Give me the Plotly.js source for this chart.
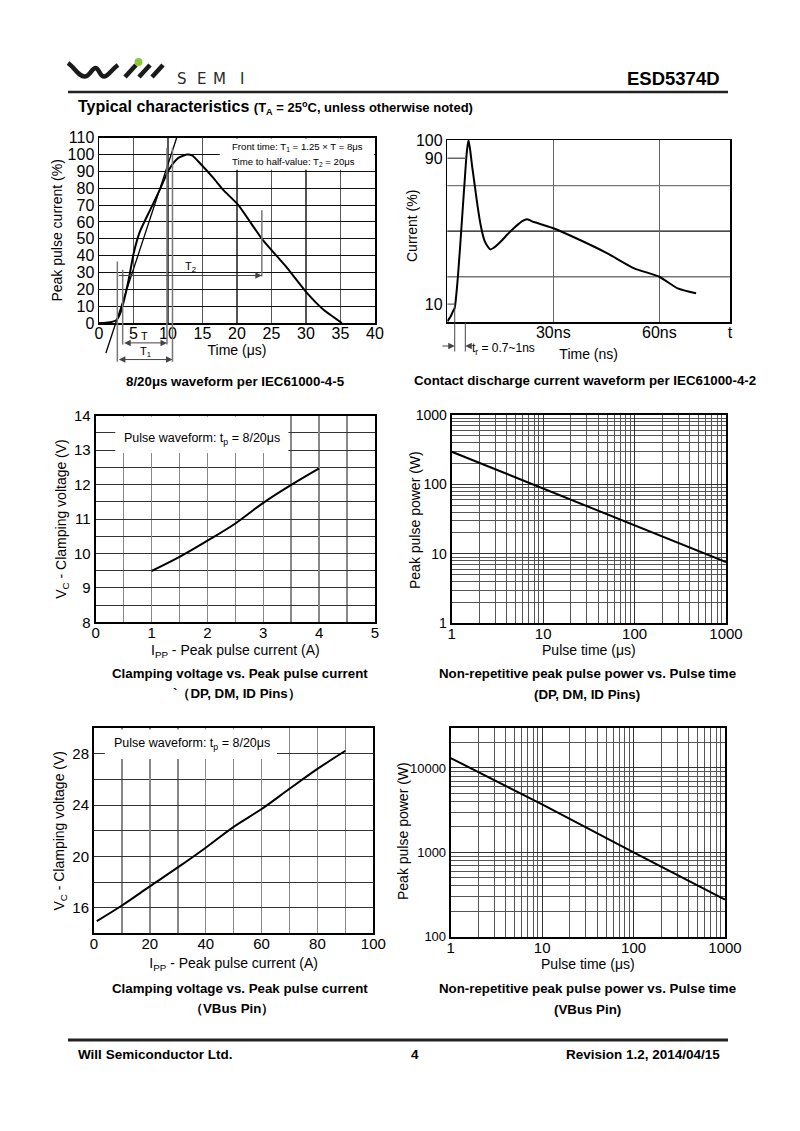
<!DOCTYPE html>
<html><head><meta charset="utf-8">
<script src="https://cdn.plot.ly/plotly-3.0.1.min.js"></script>
<style>html,body{margin:0;padding:0;background:#fff}</style>
</head><body>
<div id="chart" style="width:800px;height:1131px"></div>
<script>
// ---------------- DATA ----------------
// Chart 1: 8/20us waveform (IEC61000-4-5)
const wave820_t = [0, 1, 2, 2.6, 3.0, 3.4, 4.0, 4.5, 5.0, 5.9, 7.4, 8.8, 10.0, 10.8, 11.5, 12.7, 13.5, 14.6, 16.6, 18.0, 20.2, 23.6, 27.0, 30.1, 32.5, 35.2];
const wave820_i = [0, 0.2, 0.8, 2, 5, 10, 20, 30, 41, 54, 67, 79, 90, 95, 98, 100, 99.5, 95, 86, 79, 70, 50, 34, 18, 8, 0];
const tangent_t = [1.0, 11.26];
const tangent_i = [-17.8, 110];
const c1_xticks = [0, 5, 10, 15, 20, 25, 30, 35, 40];
const c1_yticks = [0, 10, 20, 30, 40, 50, 60, 70, 80, 90, 100, 110];

// Chart 2: contact discharge waveform (IEC61000-4-2)
const esd_t = [0, 0.9, 1.6, 2.1, 3.0, 4.0, 5.0, 5.5, 6.0, 6.5, 7.0, 7.7, 8.4, 9.1, 9.8, 10.5, 11.3, 12.2, 13.2, 14.1, 15.5, 16.9, 18.8, 20.2, 21.2, 22.6, 24.5, 27.0, 30.0, 37.7, 45.3, 52.9, 60.0, 65.2, 70.4];
const esd_i = [0.5, 3, 6, 8, 25, 52, 80, 93, 100, 94, 86, 76, 66, 57, 50, 45, 42, 40, 41, 42.4, 45, 48, 51.6, 54, 55.5, 56.5, 55, 53.5, 51.6, 45, 37.8, 29.6, 25, 18.6, 15.9];
const c2_xtickvals = [30, 60, 80];
const c2_xticktext = ['30ns', '60ns', 't'];
const c2_yticks = [10, 90, 100];

// Chart 3: Clamping voltage vs Ipp (DP, DM, ID)
const vcDp_ipp = [1, 1.5, 2, 2.5, 3, 3.5, 4];
const vcDp_vc = [9.49, 9.9, 10.37, 10.87, 11.47, 11.99, 12.47];
const c3_xticks = [0, 1, 2, 3, 4, 5];
const c3_yticks = [8, 9, 10, 11, 12, 13, 14];

// Chart 4: peak pulse power vs pulse time (DP, DM, ID)
const pppDp_tp = [1, 10, 100, 1000];
const pppDp_w = [296, 88, 26, 7.6];
const c4_ticks = [1, 10, 100, 1000];
const c4_ticktext = ['1', '10', '100', '1000'];

// Chart 5: Clamping voltage vs Ipp (VBus)
const vcVbus_ipp = [1, 10, 20, 30, 40, 50, 60, 70, 80, 90];
const vcVbus_vc = [14.95, 16.17, 17.66, 19.14, 20.68, 22.31, 23.7, 25.28, 26.83, 28.25];
const c5_xticks = [0, 20, 40, 60, 80, 100];
const c5_yticks = [16, 20, 24, 28];

// Chart 6: peak pulse power vs pulse time (VBus)
const pppVbus_tp = [1, 10, 100, 1000];
const pppVbus_w = [13100, 3700, 1000, 275];
const c6_xticks = [1, 10, 100, 1000];
const c6_xticktext = ['1', '10', '100', '1000'];
const c6_yticks = [100, 1000, 10000];
const c6_yticktext = ['100', '1000', '10000'];

// ---------------- HELPERS ----------------
const W = 800, H = 1131;
const ARIAL = '"Liberation Sans", Arial, sans-serif';
const xd = (a, b) => [a / W, b / W];
const yd = (top, bottom) => [1 - bottom / H, 1 - top / H];
function extendLow(dom, range, newMin) {
  const k = (dom[1] - dom[0]) / (range[1] - range[0]);
  return [dom[0] - (range[0] - newMin) * k, dom[1]];
}

const frame = {showline: true, mirror: true, linecolor: '#000', ticks: '', zeroline: false, fixedrange: true};
const tf16 = {family: ARIAL, size: 16, color: '#000'};
const tf15 = {family: ARIAL, size: 15, color: '#000'};
const tf14 = {family: ARIAL, size: 14, color: '#000'};
const tf13 = {family: ARIAL, size: 13, color: '#000'};
const TTLF = {family: ARIAL, size: 14, color: '#000'};
const ttl = (t, st) => ({text: t, font: TTLF, standoff: st});
const logMinor = (c) => ({dtick: 'D1', showgrid: true, gridcolor: c, gridwidth: 1, ticks: ''});

// domains (from pixel layout)
const D1x = xd(99, 375), D1y = yd(137.7, 323);
const D2x = xd(447.3, 730), D2y = yd(140, 322.3);
const D3x = xd(95.7, 375), D3y = yd(415.7, 622.3);
const D4x = xd(451.7, 726), D4y = yd(415, 623.3);
const D5x = xd(94, 373.3), D5y = yd(728.3, 933.3);
const D6x = xd(450.7, 725), D6y = yd(727.7, 936.7);

// ---------------- TRACES ----------------
const lineBlk = {color: '#000', width: 2};
const traces = [
  {x: wave820_t, y: wave820_i, xaxis: 'x', yaxis: 'y', mode: 'lines', line: {color: '#000', width: 2, shape: 'spline', smoothing: 0.5}, hoverinfo: 'skip'},
  {x: tangent_t, y: tangent_i, xaxis: 'x7', yaxis: 'y7', mode: 'lines', line: {color: '#000', width: 1.3}, hoverinfo: 'skip'},
  {x: esd_t, y: esd_i, xaxis: 'x2', yaxis: 'y2', mode: 'lines', line: {color: '#000', width: 2, shape: 'spline', smoothing: 0.6}, hoverinfo: 'skip'},
  {x: [], y: [], xaxis: 'x8', yaxis: 'y8', mode: 'lines'},
  {x: vcDp_ipp, y: vcDp_vc, xaxis: 'x3', yaxis: 'y3', mode: 'lines', line: {color: '#000', width: 2, shape: 'spline'}, hoverinfo: 'skip'},
  {x: pppDp_tp, y: pppDp_w, xaxis: 'x4', yaxis: 'y4', mode: 'lines', line: lineBlk, hoverinfo: 'skip'},
  {x: vcVbus_ipp, y: vcVbus_vc, xaxis: 'x5', yaxis: 'y5', mode: 'lines', line: {color: '#000', width: 2, shape: 'spline'}, hoverinfo: 'skip'},
  {x: pppVbus_tp, y: pppVbus_w, xaxis: 'x6', yaxis: 'y6', mode: 'lines', line: lineBlk, hoverinfo: 'skip'},
  {x: [], y: [], xaxis: 'x9', yaxis: 'y9', mode: 'lines'}
];

// ---------------- LAYOUT ----------------
const layout = {
  width: W, height: H,
  margin: {l: 0, r: 0, t: 0, b: 0},
  paper_bgcolor: '#fff', plot_bgcolor: 'rgba(0,0,0,0)',
  showlegend: false,
  font: {family: ARIAL, color: '#000'},

  // Chart 1
  xaxis: Object.assign({}, frame, {domain: D1x, anchor: 'y', range: [0, 40], tickmode: 'array', tickvals: c1_xticks,
    showgrid: true, gridcolor: '#555', gridwidth: 1.5, linewidth: 1.5, tickfont: tf16, ticklabelstandoff: -5, title: ttl('Time (μs)', 2)}),
  yaxis: Object.assign({}, frame, {domain: D1y, anchor: 'x', range: [0, 110], tickmode: 'array', tickvals: c1_yticks,
    showgrid: true, gridcolor: '#111', gridwidth: 1, linewidth: 1.5, tickfont: tf16, title: ttl('Peak pulse current (%)', 1)}),
  xaxis7: {domain: D1x, anchor: 'y7', range: [0, 40], visible: false, fixedrange: true},
  yaxis7: {domain: extendLow(D1y, [0, 110], -25), anchor: 'x7', range: [-25, 110], visible: false, fixedrange: true},

  // Chart 2
  xaxis2: Object.assign({}, frame, {domain: D2x, anchor: 'y2', range: [0, 80], tickmode: 'array', tickvals: c2_xtickvals, ticktext: c2_xticktext,
    showgrid: true, gridcolor: '#666', gridwidth: 1.5, linewidth: 1.5, tickfont: tf16, ticklabelstandoff: -5, title: ttl('Time (ns)', 9)}),
  yaxis2: Object.assign({}, frame, {domain: D2y, anchor: 'x2', range: [0, 100], tickmode: 'array', tickvals: c2_yticks,
    showgrid: false, linewidth: 1.5, tickfont: tf16}),
  xaxis8: {domain: extendLow(D2x, [0, 80], -4), anchor: 'y8', range: [-4, 80], visible: false, fixedrange: true},
  yaxis8: {domain: extendLow(D2y, [0, 100], -18), anchor: 'x8', range: [-18, 100], visible: false, fixedrange: true},

  // Chart 3
  xaxis3: Object.assign({}, frame, {domain: D3x, anchor: 'y3', range: [0, 5], tickmode: 'array', tickvals: c3_xticks,
    showgrid: true, gridcolor: '#888', gridwidth: 1.5, linewidth: 2, tickfont: tf15, ticklabelstandoff: -4,
    minor: {dtick: 0.5, showgrid: true, gridcolor: '#888', gridwidth: 1.5, ticks: ''},
    title: ttl('I<sub>PP</sub> - Peak pulse current (A)', 5)}),
  yaxis3: Object.assign({}, frame, {domain: D3y, anchor: 'x3', range: [8, 14], tickmode: 'array', tickvals: c3_yticks,
    showgrid: true, gridcolor: '#333', gridwidth: 1, linewidth: 2, tickfont: tf15,
    minor: {dtick: 0.5, showgrid: true, gridcolor: '#333', gridwidth: 1, ticks: ''},
    title: ttl('V<sub>C</sub> - Clamping voltage (V)', 4)}),

  // Chart 4
  xaxis4: Object.assign({}, frame, {domain: D4x, anchor: 'y4', type: 'log', range: [0, 3], tickmode: 'array', tickvals: c4_ticks, ticktext: c4_ticktext,
    showgrid: true, gridcolor: '#333', gridwidth: 1, linewidth: 2, tickfont: tf15, ticklabelstandoff: -4, minor: logMinor('#555'),
    title: ttl('Pulse time (μs)', 2)}),
  yaxis4: Object.assign({}, frame, {domain: D4y, anchor: 'x4', type: 'log', range: [0, 3], tickmode: 'array', tickvals: c4_ticks, ticktext: c4_ticktext,
    showgrid: true, gridcolor: '#333', gridwidth: 1, linewidth: 2, tickfont: tf14, minor: logMinor('#555')}),

  // Chart 5
  xaxis5: Object.assign({}, frame, {domain: D5x, anchor: 'y5', range: [0, 100], tickmode: 'array', tickvals: c5_xticks,
    showgrid: true, gridcolor: '#888', gridwidth: 1.5, linewidth: 2, tickfont: tf15, ticklabelstandoff: -4,
    minor: {dtick: 10, showgrid: true, gridcolor: '#888', gridwidth: 1.5, ticks: ''},
    title: ttl('I<sub>PP</sub> - Peak pulse current (A)', 7)}),
  yaxis5: Object.assign({}, frame, {domain: D5y, anchor: 'x5', range: [14, 30], tickmode: 'array', tickvals: c5_yticks,
    showgrid: true, gridcolor: '#333', gridwidth: 1, linewidth: 2, tickfont: tf15,
    minor: {tick0: 14, dtick: 2, showgrid: true, gridcolor: '#333', gridwidth: 1, ticks: ''},
    title: ttl('V<sub>C</sub> - Clamping voltage (V)', 4)}),

  // Chart 6
  xaxis6: Object.assign({}, frame, {domain: D6x, anchor: 'y6', type: 'log', range: [0, 3], tickmode: 'array', tickvals: c6_xticks, ticktext: c6_xticktext,
    showgrid: true, gridcolor: '#333', gridwidth: 1, linewidth: 2, tickfont: tf15, ticklabelstandoff: -4, minor: logMinor('#555'),
    title: ttl('Pulse time (μs)', 3)}),
  yaxis6: Object.assign({}, frame, {domain: D6y, anchor: 'x6', type: 'log', range: [2, Math.log10(30000)], tickmode: 'array', tickvals: c6_yticks, ticktext: c6_yticktext,
    showgrid: true, gridcolor: '#333', gridwidth: 1, linewidth: 2, tickfont: tf13, minor: logMinor('#555')}),

  // full-page pixel axes for page decoration
  xaxis9: {domain: [0, 1], anchor: 'y9', range: [0, W], visible: false, fixedrange: true},
  yaxis9: {domain: [0, 1], anchor: 'x9', range: [H, 0], visible: false, fixedrange: true},

  shapes: [], annotations: []
};

const S = layout.shapes, A = layout.annotations;
const gray = '#666';

// ---- Chart 1 decorations ----
S.push({type: 'rect', xref: 'x', yref: 'y', x0: 17.5, x1: 39.85, y0: 91, y1: 109.5, fillcolor: '#fff', line: {width: 0}, layer: 'between'});
A.push({xref: 'x', yref: 'y', x: 19.0, y: 104.5, xanchor: 'left', yanchor: 'middle', showarrow: false,
  text: 'Front time: T<sub>1</sub> = 1.25 × T = 8μs', font: {family: ARIAL, size: 9.6}});
A.push({xref: 'x', yref: 'y', x: 19.0, y: 95.6, xanchor: 'left', yanchor: 'middle', showarrow: false,
  text: 'Time to half-value: T<sub>2</sub> = 20μs', font: {family: ARIAL, size: 9.6}});
[[2.66, -23, 36.5], [3.43, -12.8, 31.6], [9.85, -12.8, 104], [10.65, -23, 104], [23.6, 27.6, 67]].forEach(v => {
  S.push({type: 'line', xref: 'x7', yref: 'y7', x0: v[0], x1: v[0], y0: v[1], y1: v[2], line: {color: '#777', width: 1.5}});
});
const arrow = (xr, yr, x, y, ax, ay, side) => ({xref: xr, yref: yr, axref: xr, ayref: yr, x: x, y: y, ax: ax, ay: ay, text: '',
  showarrow: true, arrowhead: 2, arrowsize: 1.3, arrowwidth: 1, arrowcolor: '#444', arrowside: side, standoff: 0, startstandoff: 0});
A.push(arrow('x7', 'y7', 23.6, 28.2, 2.66, 28.2, 'end'));
A.push(arrow('x7', 'y7', 9.85, -11.8, 3.43, -11.8, 'end+start'));
A.push(arrow('x7', 'y7', 10.65, -21.7, 2.66, -21.7, 'end+start'));
A.push({xref: 'x7', yref: 'y7', x: 13.2, y: 33.5, text: 'T<sub>2</sub>', showarrow: false, font: {family: ARIAL, size: 11}});
A.push({xref: 'x7', yref: 'y7', x: 6.6, y: -7.5, text: 'T', showarrow: false, font: {family: ARIAL, size: 11}});
A.push({xref: 'x7', yref: 'y7', x: 6.8, y: -17, text: 'T<sub>1</sub>', showarrow: false, font: {family: ARIAL, size: 11}});

// ---- Chart 2 decorations ----
[[25, '#777'], [50, '#111'], [75, '#777']].forEach(g => {
  S.push({type: 'line', xref: 'x2 domain', yref: 'y2', x0: 0, x1: 1, y0: g[0], y1: g[0], line: {color: g[1], width: 1.3}, layer: 'below'});
});
S.push({type: 'line', xref: 'x2', yref: 'y2', x0: 0, x1: 5.3, y0: 90, y1: 90, line: {color: gray, width: 1.3}});
S.push({type: 'line', xref: 'x2', yref: 'y2', x0: 0, x1: 2.1, y0: 10, y1: 10, line: {color: gray, width: 1.3}});
S.push({type: 'line', xref: 'x8', yref: 'y8', x0: 2.1, x1: 2.1, y0: 10, y1: -16, line: {color: '#444', width: 1}});
S.push({type: 'line', xref: 'x8', yref: 'y8', x0: 5.1, x1: 5.1, y0: 0, y1: -16, line: {color: '#444', width: 1}});
A.push(arrow('x8', 'y8', 2.1, -13, -1.8, -13, 'end'));
A.push(arrow('x8', 'y8', 5.1, -13, 6.4, -13, 'end'));
A.push({xref: 'x8', yref: 'y8', x: 6.3, y: -14.5, xanchor: 'left', text: 't<sub>r</sub> = 0.7~1ns', showarrow: false, font: {family: ARIAL, size: 12}});

// ---- Chart 3 / 5 pulse waveform boxes ----
S.push({type: 'rect', xref: 'x3', yref: 'y3', x0: 0.35, x1: 3.45, y0: 12.92, y1: 13.97, fillcolor: '#fff', line: {width: 0}, layer: 'between'});
A.push({xref: 'x3', yref: 'y3', x: 0.47, y: 13.33, xanchor: 'left', text: 'Pulse waveform: t<sub>p</sub> = 8/20μs', showarrow: false, font: {family: ARIAL, size: 12.5}});
S.push({type: 'rect', xref: 'x5', yref: 'y5', x0: 3.9, x1: 65.5, y0: 27.6, y1: 29.9, fillcolor: '#fff', line: {width: 0}, layer: 'between'});
A.push({xref: 'x5', yref: 'y5', x: 6.5, y: 28.75, xanchor: 'left', text: 'Pulse waveform: t<sub>p</sub> = 8/20μs', showarrow: false, font: {family: ARIAL, size: 12.5}});

// ---- Page decorations (pixel coords on x9/y9) ----
const P = (x, y, text, font, xa) => ({xref: 'x9', yref: 'y9', x: x, y: y, text: text, showarrow: false,
  xanchor: xa || 'center', yanchor: 'middle', font: font});
// rotated y titles placed where the reference has them
A.push(Object.assign(P(412, 226, 'Current (%)', TTLF), {textangle: -90}));
A.push(Object.assign(P(415, 520, 'Peak pulse power (W)', TTLF), {textangle: -90}));
A.push(Object.assign(P(403, 831, 'Peak pulse power (W)', TTLF), {textangle: -90}));
// logo
S.push({type: 'path', xref: 'x9', yref: 'y9', path: 'M 68,63 C 74,67 79,77 85,76.5 C 90,76 92,68 95.5,68 C 99,68 100,76.5 104,76.5 C 108,76.5 111,70 118,65',
  line: {color: '#1a1a1a', width: 4.5}});
[[125, 136], [139, 150], [152, 163]].forEach(s => {
  S.push({type: 'line', xref: 'x9', yref: 'y9', x0: s[0], y0: 77, x1: s[1], y1: 65, line: {color: '#1a1a1a', width: 4.5}});
});
S.push({type: 'circle', xref: 'x9', yref: 'y9', x0: 134.5, x1: 142.5, y0: 58, y1: 66, fillcolor: '#8dc63f', line: {width: 0}});
const LF = {family: '"DejaVu Sans", sans-serif', size: 15, color: '#2a2a2a'};
[['S', 181.5], ['E', 201], ['M', 219], ['I', 241.5]].forEach(l => A.push(P(l[1], 79, l[0], LF)));
A.push(P(722, 78, '<b>ESD5374D</b>', {family: ARIAL, size: 18.5, color: '#000'}, 'right'));
S.push({type: 'line', xref: 'x9', yref: 'y9', x0: 68, x1: 728, y0: 92, y1: 92, line: {color: '#222', width: 2.5}});
A.push(P(76, 107, '<b>Typical characteristics <span style="font-size:13px">(T<sub>A</sub> = 25<sup>o</sup>C, unless otherwise noted)</span></b>',
  {family: ARIAL, size: 16, color: '#000'}, 'left'));

// captions
const CF = {family: ARIAL, size: 13.3, color: '#000'};
A.push(P(235, 381, '<b>8/20μs waveform per IEC61000-4-5</b>', CF));
A.push(P(585, 380, '<b>Contact discharge current waveform per IEC61000-4-2</b>', CF));
A.push(P(240, 673, '<b>Clamping voltage vs. Peak pulse current</b>', CF));
A.push(P(237, 693, '<b>`（DP, DM, ID Pins）</b>', CF));
A.push(P(587, 673, '<b>Non-repetitive peak pulse power vs. Pulse time</b>', CF));
A.push(P(587, 694, '<b>(DP, DM, ID Pins)</b>', CF));
A.push(P(240, 988, '<b>Clamping voltage vs. Peak pulse current</b>', CF));
A.push(P(232, 1008, '<b>（VBus Pin）</b>', CF));
A.push(P(587, 988, '<b>Non-repetitive peak pulse power vs. Pulse time</b>', CF));
A.push(P(587, 1009, '<b>(VBus Pin)</b>', CF));

// footer
S.push({type: 'line', xref: 'x9', yref: 'y9', x0: 68, x1: 728, y0: 1040, y1: 1040, line: {color: '#222', width: 3}});
const FF = {family: ARIAL, size: 13.5, color: '#000'};
A.push(P(76, 1054, '<b>Will Semiconductor Ltd.</b>', FF, 'left'));
A.push(P(415, 1054, '<b>4</b>', FF));
A.push(P(722, 1054, '<b>Revision 1.2, 2014/04/15</b>', FF, 'right'));

Plotly.newPlot('chart', traces, layout, {displayModeBar: false, staticPlot: true});
</script>
</body></html>
